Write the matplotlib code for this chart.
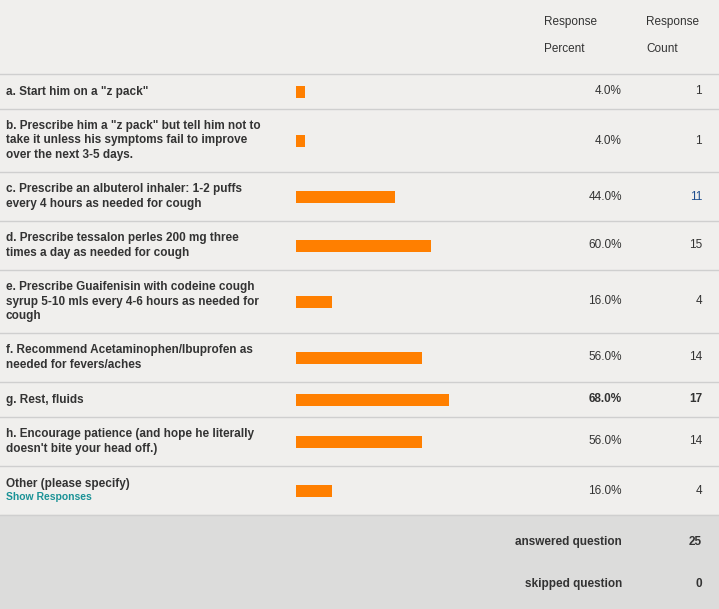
import matplotlib
matplotlib.use("Agg")
import matplotlib.pyplot as plt

# survey answers, as they are wrapped in the table
labels = [
    'a. Start him on a "z pack"',
    'b. Prescribe him a "z pack" but tell him not to\ntake it unless his symptoms fail to improve\nover the next 3-5 days.',
    'c. Prescribe an albuterol inhaler: 1-2 puffs\nevery 4 hours as needed for cough',
    'd. Prescribe tessalon perles 200 mg three\ntimes a day as needed for cough',
    'e. Prescribe Guaifenisin with codeine cough\nsyrup 5-10 mls every 4-6 hours as needed for\ncough',
    'f. Recommend Acetaminophen/Ibuprofen as\nneeded for fevers/aches',
    'g. Rest, fluids',
    "h. Encourage patience (and hope he literally\ndoesn't bite your head off.)",
    'Other (please specify)\nShow Responses',
]
percents = [4.0, 4.0, 44.0, 60.0, 16.0, 56.0, 68.0, 56.0, 16.0]
counts = [1, 1, 11, 15, 4, 14, 17, 14, 4]
answered = 25
skipped = 0

W, H = 719, 609
BG = '#f0efed'
FOOT = '#dcdcdb'
LINE = '#cfcfcf'
TXT = '#333333'
ORANGE = '#ff7f00'

plt.rcParams['font.family'] = ['Liberation Sans', 'DejaVu Sans']

fig = plt.figure(figsize=(W / 100, H / 100), dpi=100, facecolor=BG)
ax = fig.add_axes([0, 0, 1, 1])
ax.set_xlim(0, W)
ax.set_ylim(H, 0)
ax.axis('off')

# row geometry: 21 px padding + 14 px per text line
top = 74
edges = [top]
for lab in labels:
    n = lab.count('\n') + 1
    edges.append(edges[-1] + 21 + 14 * n)
centers = [(edges[i] + edges[i + 1]) / 2 for i in range(len(labels))]

# footer
ax.fill_between([0, W], edges[-1], H, color=FOOT, zorder=0)

for e in edges:
    ax.plot([0, W], [e, e], color=LINE, lw=1.0, zorder=1)

# header
ax.text(544, 22, 'Response', fontsize=8.5, color=TXT, va='center')
ax.text(544, 49, 'Percent', fontsize=8.5, color=TXT, va='center')
ax.text(646, 22, 'Response', fontsize=8.5, color=TXT, va='center')
ax.text(646, 49, 'Count', fontsize=8.5, color=TXT, va='center')

top_i = percents.index(max(percents))
for i, lab in enumerate(labels):
    c = centers[i]
    if lab.startswith('Other'):
        first, second = lab.split('\n')
        ax.text(6, c - 6, first, fontsize=8.5, fontweight='bold', color=TXT, va='center')
        ax.text(6, c + 7, second, fontsize=7.5, fontweight='bold', color='#1a9296', va='center')
    else:
        ax.text(6, c, lab, fontsize=8.5, fontweight='bold', color=TXT, va='center',
                linespacing=1.3)
    w = 'bold' if i == top_i else 'normal'
    ax.text(622, c, f'{percents[i]:.1f}%', fontsize=8.5, color=TXT, va='center',
            ha='right', fontweight=w)
    cc = '#1f4f8f' if counts[i] == 11 else TXT
    ax.text(702, c, str(counts[i]), fontsize=8.5, color=cc, va='center',
            ha='right', fontweight=w)

ax.text(622, 542, 'answered question', fontsize=8.5, fontweight='bold', color=TXT,
        ha='right', va='center')
ax.text(702, 542, str(answered), fontsize=8.5, fontweight='bold', color=TXT,
        ha='right', va='center')
ax.text(622, 584, 'skipped question', fontsize=8.5, fontweight='bold', color=TXT,
        ha='right', va='center')
ax.text(702, 584, str(skipped), fontsize=8.5, fontweight='bold', color=TXT,
        ha='right', va='center')

# bar column: 100% spans 225 px starting at x=296
bx = fig.add_axes([296 / W, 0, 225 / W, 1])
bx.set_xlim(0, 100)
bx.set_ylim(H, 0)
bx.axis('off')
bx.patch.set_alpha(0)
bx.barh(centers, percents, height=12, color=ORANGE, left=0)

fig.savefig('out.png', dpi=100, facecolor=BG)
